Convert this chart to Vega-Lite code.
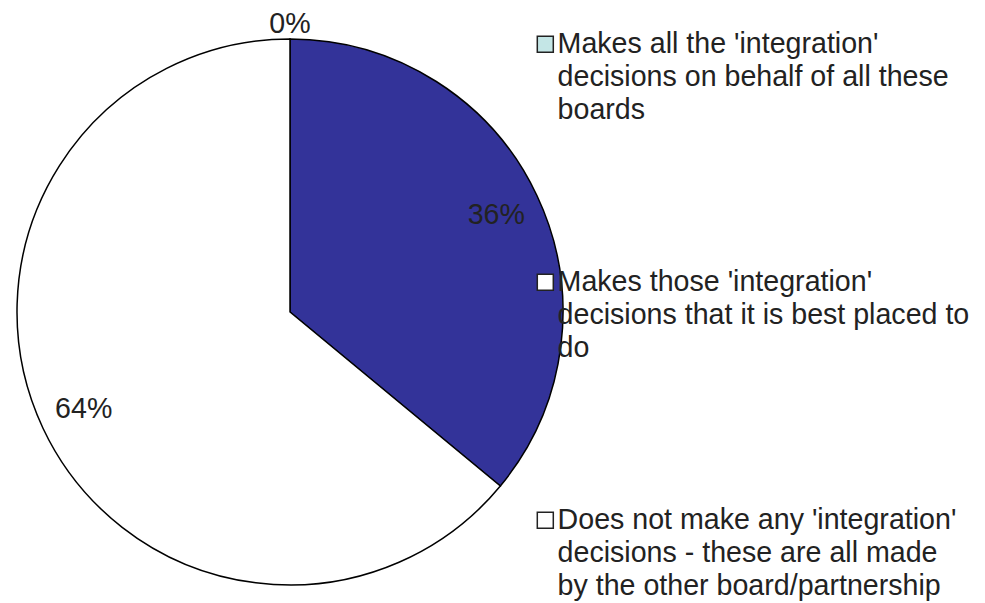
{
  "$schema": "https://vega.github.io/schema/vega-lite/v6.json",
  "autosize": {"type": "none"},
  "width": 546,
  "height": 548,
  "padding": {"left": 17, "top": 38, "right": 422, "bottom": 17},
  "background": "white",
  "config": {
    "view": {"stroke": null},
    "font": "Liberation Sans",
    "style": {"guide-label": {"lineHeight": 33}}
  },
  "data": {
    "values": [
      {"order": 1, "category": "Makes all the 'integration'\ndecisions on behalf of all these\nboards", "share": 0, "label": "0%"},
      {"order": 2, "category": "Makes those 'integration'\ndecisions that it is best placed to\ndo", "share": 36, "label": "36%"},
      {"order": 3, "category": "Does not make any 'integration'\ndecisions - these are all made\nby the other board/partnership", "share": 64, "label": "64%"}
    ]
  },
  "encoding": {
    "theta": {"field": "share", "type": "quantitative", "stack": true},
    "order": {"field": "order", "type": "quantitative"}
  },
  "layer": [
    {
      "mark": {"type": "arc"},
      "encoding": {
        "color": {
          "field": "category", "type": "nominal", "sort": {"field": "order"},
          "scale": {"range": ["#C4E6E6", "#FFFFFF", "#FFFFFF"]},
          "legend": {
            "title": null,
            "orient": "none",
            "legendX": 514,
            "legendY": -8,
            "padding": 0,
            "symbolType": "square",
            "symbolSize": 256,
            "symbolStrokeColor": "#222222",
            "symbolStrokeWidth": 1.5,
            "symbolOpacity": 1,
            "labelExpr": "split(datum.label + '\\n\\n\\n\\n', '\\n')",
            "labelFont": "Liberation Sans",
            "labelFontSize": 28.6,
            "labelColor": "#222222",
            "labelLimit": 500,
            "labelOffset": -2,
            "labelBaseline": "middle",
            "rowPadding": 11
          }
        }
      }
    },
    {
      "mark": {"type": "arc", "stroke": "#000000", "strokeWidth": 1.5},
      "encoding": {
        "fill": {
          "field": "category", "type": "nominal", "sort": {"field": "order"},
          "scale": {"range": ["#C4E6E6", "#333399", "#FFFFFF"]},
          "legend": null
        }
      }
    },
    {
      "transform": [{"filter": "datum.share > 0"}],
      "mark": {"type": "text", "radius": 228, "fontSize": 28.6, "font": "Liberation Sans", "color": "#222222"},
      "encoding": {"text": {"field": "label"}}
    },
    {
      "transform": [{"filter": "datum.share == 0"}],
      "mark": {"type": "text", "radius": 288, "fontSize": 28.6, "font": "Liberation Sans", "color": "#222222"},
      "encoding": {"text": {"field": "label"}}
    }
  ]
}
